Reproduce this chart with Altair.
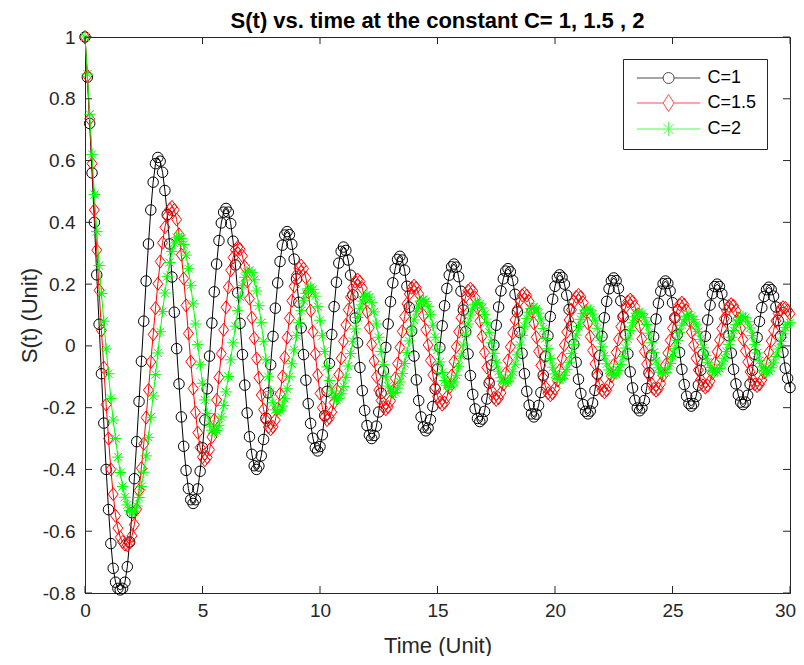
import altair as alt
import pandas as pd

# ---------------- data ----------------
LABELS = ["C=1", "C=1.5", "C=2"]
COLORS = ["#000000", "#ff0000", "#00ff00"]
X_TICKS = [0, 5, 10, 15, 20, 25, 30]
Y_TICKS = [-0.8, -0.6, -0.4, -0.2, 0, 0.2, 0.4, 0.6, 0.8, 1]
DT = 0.1  # sampling step of the time axis (0 .. 30)

S_C1 = [
    1.0, 0.87, 0.72, 0.56, 0.40, 0.23, 0.07, -0.09, -0.25, -0.40, -0.53, -0.64, -0.72, -0.765, -0.785, -0.79,
    -0.785, -0.765, -0.715, -0.635, -0.54, -0.43, -0.31, -0.18, -0.05, 0.08, 0.21, 0.33, 0.44, 0.53, 0.59, 0.61,
    0.598, 0.562, 0.503, 0.425, 0.33, 0.223, 0.109, -0.009, -0.123, -0.23, -0.325, -0.403, -0.462, -0.498, -0.51,
    -0.498, -0.463, -0.406, -0.33, -0.24, -0.139, -0.033, 0.074, 0.175, 0.265, 0.341, 0.398, 0.433, 0.445,
    0.433, 0.396, 0.339, 0.262, 0.172, 0.073, -0.028, -0.127, -0.217, -0.294, -0.351, -0.388, -0.40,
    -0.389, -0.356, -0.303, -0.234, -0.152, -0.061, 0.031, 0.122, 0.204, 0.273, 0.326, 0.359, 0.37,
    0.36, 0.329, 0.281, 0.217, 0.141, 0.058, -0.028, -0.111, -0.187, -0.251, -0.299, -0.33, -0.34,
    -0.326, -0.288, -0.226, -0.147, -0.057, 0.037, 0.127, 0.206, 0.268, 0.306, 0.32,
    0.309, 0.278, 0.229, 0.165, 0.09, 0.01, -0.07, -0.145, -0.209, -0.258, -0.289, -0.30,
    -0.29, -0.26, -0.214, -0.153, -0.081, -0.005, 0.071, 0.143, 0.204, 0.25, 0.28, 0.29,
    0.278, 0.245, 0.193, 0.125, 0.048, -0.033, -0.11, -0.177, -0.23, -0.263, -0.275,
    -0.266, -0.239, -0.196, -0.14, -0.075, -0.005, 0.065, 0.13, 0.186, 0.229, 0.256, 0.265,
    0.255, 0.224, 0.177, 0.116, 0.046, -0.026, -0.096, -0.157, -0.204, -0.235, -0.245,
    -0.237, -0.212, -0.172, -0.121, -0.062, 0.003, 0.067, 0.126, 0.178, 0.217, 0.242, 0.25,
    0.24, 0.212, 0.167, 0.11, 0.044, -0.024, -0.09, -0.147, -0.192, -0.22, -0.23,
    -0.221, -0.193, -0.151, -0.095, -0.033, 0.033, 0.095, 0.151, 0.193, 0.221, 0.23,
    0.222, 0.2, 0.164, 0.118, 0.063, 0.005, -0.053, -0.108, -0.154, -0.19, -0.212, -0.22,
    -0.211, -0.185, -0.144, -0.091, -0.031, 0.031, 0.091, 0.144, 0.185, 0.211, 0.22,
    0.211, 0.186, 0.146, 0.094, 0.036, -0.026, -0.084, -0.136, -0.176, -0.201, -0.21,
    -0.201, -0.177, -0.138, -0.087, -0.03, 0.03, 0.087, 0.138, 0.177, 0.201, 0.21,
    0.202, 0.178, 0.14, 0.091, 0.036, -0.021, -0.076, -0.125, -0.163, -0.187, -0.195,
    -0.187, -0.164, -0.127, -0.079, -0.026, 0.031, 0.084, 0.132, 0.169, 0.192, 0.20,
    0.192, 0.169, 0.133, 0.086, 0.033, -0.023, -0.076, -0.123, -0.159, -0.182, -0.19,
    -0.182, -0.16, -0.124, -0.079, -0.027, 0.027, 0.079, 0.124, 0.16, 0.182, 0.19,
    0.182, 0.161, 0.126, 0.082, 0.031, -0.021, -0.072, -0.105, -0.135,
]

S_C15 = [
    1.0, 0.875, 0.735, 0.59, 0.44, 0.31, 0.18, 0.05, -0.07, -0.19, -0.30, -0.40, -0.48, -0.55, -0.59, -0.62, -0.635, -0.643, -0.645,
    -0.637, -0.615, -0.579, -0.529, -0.468, -0.396, -0.317, -0.232, -0.143, -0.052, 0.037, 0.122, 0.201, 0.273, 0.334, 0.384, 0.42, 0.442, 0.45,
    0.44, 0.409, 0.361, 0.295, 0.218, 0.131, 0.04, -0.051, -0.138, -0.215, -0.281, -0.329, -0.36, -0.37,
    -0.361, -0.336, -0.295, -0.24, -0.175, -0.102, -0.025, 0.052, 0.125, 0.19, 0.245, 0.286, 0.311, 0.32,
    0.313, 0.291, 0.256, 0.209, 0.153, 0.091, 0.025, -0.041, -0.103, -0.159, -0.206, -0.241, -0.263, -0.27,
    -0.262, -0.24, -0.203, -0.156, -0.099, -0.037, 0.027, 0.089, 0.146, 0.193, 0.23, 0.252, 0.26,
    0.25, 0.22, 0.174, 0.114, 0.046, -0.026, -0.094, -0.154, -0.2, -0.23, -0.24,
    -0.233, -0.214, -0.183, -0.142, -0.093, -0.04, 0.015, 0.068, 0.117, 0.158, 0.189, 0.208, 0.215,
    0.208, 0.187, 0.153, 0.11, 0.059, 0.005, -0.049, -0.1, -0.143, -0.177, -0.198, -0.205,
    -0.198, -0.178, -0.146, -0.105, -0.057, -0.005, 0.047, 0.095, 0.136, 0.168, 0.188, 0.195,
    0.188, 0.169, 0.139, 0.099, 0.052, 0.003, -0.047, -0.094, -0.134, -0.164, -0.183, -0.19,
    -0.184, -0.165, -0.135, -0.096, -0.051, -0.003, 0.046, 0.091, 0.13, 0.16, 0.179, 0.185,
    0.178, 0.156, 0.123, 0.08, 0.031, -0.021, -0.07, -0.113, -0.146, -0.168, -0.175,
    -0.169, -0.152, -0.125, -0.089, -0.047, -0.003, 0.042, 0.084, 0.119, 0.147, 0.164, 0.17,
    0.163, 0.144, 0.113, 0.073, 0.028, -0.018, -0.063, -0.103, -0.134, -0.153, -0.16,
    -0.154, -0.138, -0.112, -0.079, -0.04, 0.003, 0.045, 0.084, 0.117, 0.143, 0.159, 0.165,
    0.159, 0.14, 0.111, 0.073, 0.03, -0.015, -0.058, -0.096, -0.125, -0.144, -0.15,
    -0.144, -0.126, -0.098, -0.062, -0.021, 0.021, 0.062, 0.098, 0.126, 0.144, 0.15,
    0.144, 0.127, 0.099, 0.064, 0.023, -0.018, -0.059, -0.094, -0.122, -0.139, -0.145,
    -0.139, -0.122, -0.096, -0.062, -0.023, 0.018, 0.057, 0.091, 0.117, 0.134, 0.14,
    0.133, 0.114, 0.083, 0.045, 0.003, -0.04, -0.078, -0.109, -0.128, -0.135,
    -0.129, -0.114, -0.088, -0.056, -0.019, 0.019, 0.056, 0.088, 0.114, 0.129, 0.135,
    0.13, 0.114, 0.089, 0.057, 0.021, -0.016, -0.052, -0.084, -0.109, -0.125, -0.13,
    -0.125, -0.11, -0.086, -0.055, -0.021, 0.016, 0.05, 0.081, 0.105, 0.12, 0.125, 0.123, 0.115, 0.104,
]

S_C2 = [
    1.0, 0.88, 0.75, 0.62, 0.49, 0.37, 0.26, 0.17, 0.08, -0.01, -0.09, -0.17, -0.24, -0.30, -0.36, -0.41, -0.455, -0.49, -0.515, -0.533, -0.54,
    -0.535, -0.518, -0.491, -0.455, -0.409, -0.356, -0.296, -0.231, -0.162, -0.093, -0.023, 0.046, 0.111, 0.171, 0.224, 0.27, 0.306, 0.333, 0.35, 0.355,
    0.348, 0.328, 0.294, 0.25, 0.196, 0.136, 0.071, 0.004, -0.061, -0.121, -0.175, -0.219, -0.253, -0.273, -0.28,
    -0.274, -0.257, -0.23, -0.193, -0.149, -0.099, -0.045, 0.01, 0.064, 0.114, 0.158, 0.195, 0.222, 0.239, 0.245,
    0.237, 0.214, 0.178, 0.13, 0.075, 0.015, -0.045, -0.1, -0.148, -0.184, -0.207, -0.215,
    -0.21, -0.195, -0.171, -0.139, -0.1, -0.058, -0.013, 0.033, 0.075, 0.114, 0.146, 0.17, 0.185, 0.19,
    0.183, 0.161, 0.127, 0.083, 0.033, -0.018, -0.068, -0.112, -0.146, -0.168, -0.175,
    -0.17, -0.155, -0.132, -0.102, -0.065, -0.025, 0.015, 0.055, 0.092, 0.122, 0.145, 0.16, 0.165,
    0.158, 0.14, 0.11, 0.071, 0.028, -0.018, -0.061, -0.1, -0.13, -0.148, -0.155,
    -0.151, -0.137, -0.117, -0.089, -0.057, -0.021, 0.016, 0.052, 0.084, 0.112, 0.132, 0.146, 0.15,
    0.144, 0.127, 0.101, 0.067, 0.028, -0.013, -0.052, -0.086, -0.112, -0.129, -0.135,
    -0.13, -0.117, -0.095, -0.066, -0.033, 0.003, 0.038, 0.071, 0.1, 0.122, 0.135, 0.14,
    0.136, 0.123, 0.102, 0.075, 0.044, 0.01, -0.024, -0.055, -0.082, -0.103, -0.116, -0.12,
    -0.116, -0.104, -0.084, -0.059, -0.029, 0.003, 0.034, 0.064, 0.089, 0.109, 0.121, 0.125,
    0.12, 0.106, 0.084, 0.056, 0.024, -0.009, -0.041, -0.069, -0.091, -0.105, -0.11,
    -0.106, -0.095, -0.076, -0.053, -0.025, 0.005, 0.035, 0.063, 0.086, 0.105, 0.116, 0.12,
    0.116, 0.103, 0.083, 0.057, 0.028, -0.003, -0.032, -0.058, -0.078, -0.091, -0.095,
    -0.091, -0.079, -0.06, -0.035, -0.007, 0.022, 0.05, 0.075, 0.094, 0.106, 0.11,
    0.105, 0.091, 0.069, 0.041, 0.01, -0.021, -0.049, -0.071, -0.085, -0.09,
    -0.086, -0.075, -0.057, -0.034, -0.008, 0.018, 0.044, 0.067, 0.085, 0.096, 0.10,
    0.096, 0.085, 0.068, 0.046, 0.021, -0.006, -0.031, -0.053, -0.07, -0.081, -0.085,
    -0.082, -0.073, -0.059, -0.04, -0.018, 0.005, 0.028, 0.05, 0.069, 0.083, 0.092, 0.095,
    0.091, 0.078, 0.058, 0.033, 0.005, -0.023, -0.048, -0.068, -0.081, -0.085,
    -0.081, -0.071, -0.055, -0.034, -0.01, 0.015, 0.039, 0.06, 0.07, 0.075,
]

SERIES = [S_C1, S_C15, S_C2]

# ---------------- styles ----------------
MARKERS = [
    "circle",
    "M0,-1.25L0.95,0L0,1.25L-0.95,0Z",
    "M0,-1.1V1.1M-1.1,0H1.1M-0.78,-0.78L0.78,0.78M-0.78,0.78L0.78,-0.78",
]
LEGEND_SYMBOLS = [
    "M-5.76,0H-1M1,0H5.76M1,0A1,1 0 1,1 -1,0A1,1 0 1,1 1,0",
    "M-5.76,0H-1M1,0H5.76M0,-1.55L1,0L0,1.55L-1,0Z",
    "M-5.76,0H5.76M0,-1.3V1.3M-0.95,-0.95L0.95,0.95M-0.95,0.95L0.95,-0.95",
]

rows = []
for lab, vals in zip(LABELS, SERIES):
    for i, v in enumerate(vals):
        rows.append({"t": round(i * DT, 1), "S": v, "C": lab})
df = pd.DataFrame(rows)

W, H = 705, 556
AX = "#262626"
FONT = "Liberation Sans"

x_scale = alt.Scale(domain=[0, 30], nice=False, zero=False)
y_scale = alt.Scale(domain=[-0.8, 1], nice=False, zero=False)
color_scale = alt.Scale(domain=LABELS, range=COLORS)

x_axis = alt.Axis(values=X_TICKS, title="Time (Unit)", grid=False, ticks=False, tickSize=0,
                  labelPadding=8, titlePadding=15, labelFontSize=19, titleFontSize=22,
                  labelColor=AX, titleColor=AX, domainColor=AX, labelFont=FONT, titleFont=FONT,
                  titleFontWeight="normal", labelFlush=False,
                  labelOffset={"condition": {"test": "datum.value == 30", "value": -5}, "value": 0})
y_axis = alt.Axis(values=Y_TICKS, labelExpr="'' + datum.value", title="S(t) (Unit)", grid=False,
                  ticks=False, tickSize=0, labelPadding=10, titlePadding=1, labelFontSize=19,
                  titleFontSize=22, labelColor=AX, titleColor=AX, domainColor=AX, labelFont=FONT,
                  titleFont=FONT, titleFontWeight="normal")


def X():
    return alt.X("t:Q", scale=x_scale, axis=x_axis)


def Y():
    return alt.Y("S:Q", scale=y_scale, axis=y_axis)


layers = []
for lab, col, shp in zip(LABELS, COLORS, MARKERS):
    base = alt.Chart(df).transform_filter(alt.datum.C == lab)
    line = base.mark_line(color=col, strokeWidth=1).encode(x=X(), y=Y())
    pts = base.mark_point(shape=shp, color=col, filled=False, size=110, strokeWidth=1,
                          opacity=1).encode(x=X(), y=Y())
    layers += [line, pts]

leg = alt.Legend(title=None, orient="none", legendX=538, legendY=22, padding=10,
                 fillColor="white", strokeColor=AX, labelFontSize=18, labelFont=FONT,
                 labelColor="black", symbolSize=121, symbolStrokeWidth=1,
                 symbolOffset=26.6, labelOffset=30, rowPadding=5, symbolFillColor="transparent")
legend_layer = alt.Chart(df).transform_filter("false").mark_point(
    filled=False, size=121, strokeWidth=1).encode(
    x=X(), y=Y(),
    color=alt.Color("C:N", scale=color_scale, legend=leg),
    shape=alt.Shape("C:N", scale=alt.Scale(domain=LABELS, range=LEGEND_SYMBOLS), legend=leg),
)

xt = pd.DataFrame({"t": X_TICKS})
yt = pd.DataFrame({"S": Y_TICKS})
TL = 7
tick_b = alt.Chart(xt).mark_rule(color=AX, strokeWidth=1).encode(
    x=X(), y=alt.value(H), y2=alt.value(H - TL))
tick_t = alt.Chart(xt).mark_rule(color=AX, strokeWidth=1).encode(
    x=X(), y=alt.value(0), y2=alt.value(TL))
tick_l = alt.Chart(yt).mark_rule(color=AX, strokeWidth=1).encode(
    y=Y(), x=alt.value(0), x2=alt.value(TL))
tick_r = alt.Chart(yt).mark_rule(color=AX, strokeWidth=1).encode(
    y=Y(), x=alt.value(W), x2=alt.value(W - TL))

chart = alt.layer(*layers, legend_layer, tick_b, tick_t, tick_l, tick_r).properties(
    width=W, height=H,
    title=alt.TitleParams("S(t) vs. time at the constant C= 1, 1.5 , 2", fontSize=22,
                          fontWeight="bold", font=FONT, color="black", offset=-5,
                          anchor="middle", frame="group"),
    autosize=alt.AutoSizeParams(type="none"),
    padding={"left": 77, "top": 29, "right": 6, "bottom": 63},
    background="white",
).configure_view(stroke=AX, strokeWidth=1)

chart.save("out.html", embed_options={"renderer": "svg", "actions": False})
